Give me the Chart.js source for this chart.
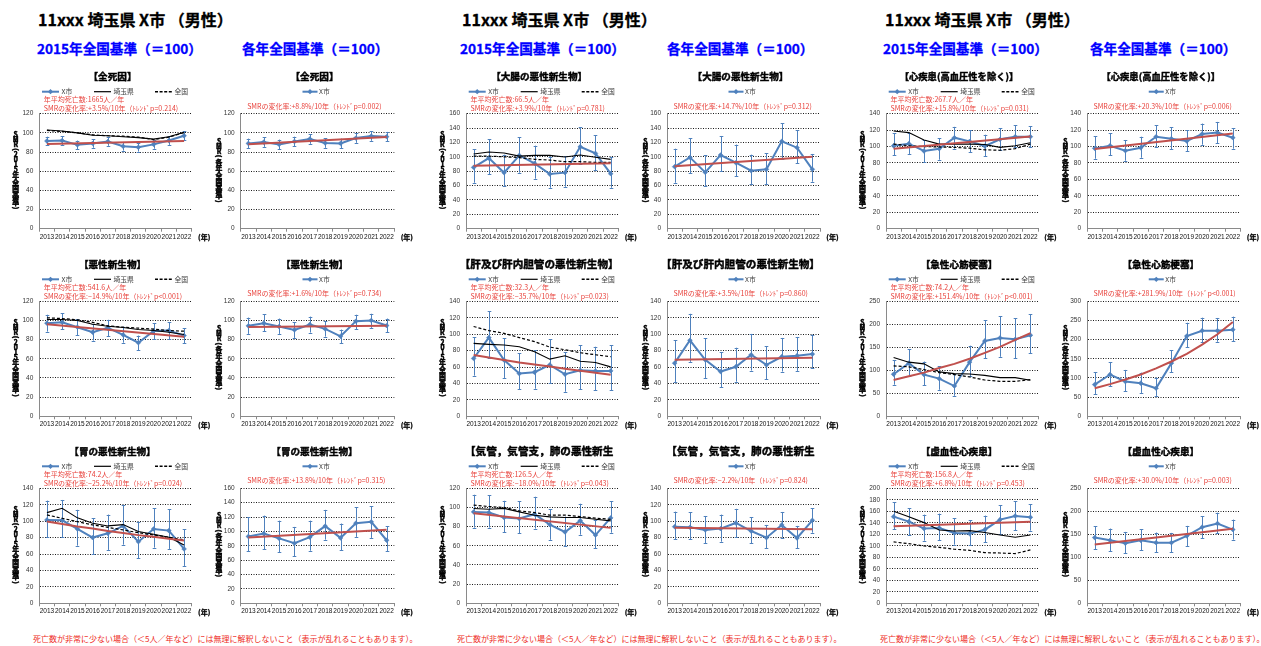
<!DOCTYPE html>
<html lang="ja">
<head>
<meta charset="utf-8">
<title>SMR推移 埼玉県 X市（男性）</title>
<script src="https://cdn.jsdelivr.net/npm/chart.js@4.4.1/dist/chart.umd.min.js"></script>
<style>
  html, body { margin:0; padding:0; background:#fff; }
  body { position:relative; width:1261px; height:646px; overflow:hidden; font-family:"Noto Sans CJK JP", sans-serif; }
  .city { position:absolute; font-weight:bold; font-size:16px; line-height:1; color:#000; white-space:nowrap; -webkit-text-stroke:0.3px #000; }
  .basis { position:absolute; font-weight:bold; font-size:13.6px; line-height:1; color:#0000ff; white-space:nowrap; -webkit-text-stroke:0.3px #0000ff; }
  .note { position:absolute; font-size:8px; line-height:1; color:#ee2a24; white-space:nowrap; }
  canvas { position:absolute; }
</style>
</head>
<body>
<div class="city" style="left:38px;top:11px">11xxx 埼玉県 X市 （男性）</div>
<div class="city" style="left:462px;top:11px">11xxx 埼玉県 X市 （男性）</div>
<div class="city" style="left:885px;top:11px">11xxx 埼玉県 X市 （男性）</div>
<div class="basis" style="left:37px;top:42px">2015年全国基準（＝100）</div>
<div class="basis" style="left:242px;top:42px">各年全国基準（＝100）</div>
<div class="basis" style="left:460px;top:42px">2015年全国基準（＝100）</div>
<div class="basis" style="left:667px;top:42px">各年全国基準（＝100）</div>
<div class="basis" style="left:883px;top:42px">2015年全国基準（＝100）</div>
<div class="basis" style="left:1090px;top:42px">各年全国基準（＝100）</div>
<div class="note" style="left:33px;top:635px">死亡数が非常に少ない場合（＜5人／年など）には無理に解釈しないこと（表示が乱れることもあります）。</div>
<div class="note" style="left:457px;top:635px">死亡数が非常に少ない場合（＜5人／年など）には無理に解釈しないこと（表示が乱れることもあります）。</div>
<div class="note" style="left:880px;top:635px">死亡数が非常に少ない場合（＜5人／年など）には無理に解釈しないこと（表示が乱れることもあります）。</div>

<script>
// ---- categories ----
const years = ['2013','2014','2015','2016','2017','2018','2019','2020','2021','2022'];

// ---- 全死因 ----
const allCauseSmr    = [91.5, 92, 87.5, 89, 91, 86, 85, 88, 92, 97];
const allCauseLo     = [87, 87.5, 83, 84.5, 86.5, 81.5, 80.5, 83.5, 87.5, 92.5];
const allCauseHi     = [96, 96.5, 92, 93.5, 95.5, 90.5, 89.5, 92.5, 96.5, 101.5];
const allCausePref   = [103, 102, 100, 97.5, 97, 96, 95, 93.5, 96, 100.5];
const allCauseNation = [102.5, 101.5, 100, 98, 97, 96.5, 95.5, 93, 95.5, 100.5];
const allCauseTrend  = [88.5, null, null, null, null, null, null, null, null, 91.6];
const allCauseYrSmr   = [89, 90.4, 88, 91, 93.6, 89.4, 89, 94.6, 96.7, 96];
const allCauseYrLo    = [84, 85.4, 83, 86, 88.6, 84.4, 84, 89.6, 91.7, 91];
const allCauseYrHi    = [94, 95.4, 93, 96, 98.6, 94.4, 94, 99.6, 101.7, 101];
const allCauseYrTrend = [88, null, null, null, null, null, null, null, null, 95.8];

// ---- 大腸の悪性新生物 ----
const colonSmr    = [85.3, 98.3, 77.9, 102, 90.9, 76, 78, 114, 104.8, 76.5];
const colonLo     = [64, 76, 59.4, 78, 69.6, 57, 58.4, 90, 81.6, 57];
const colonHi     = [110.4, 124.8, 103, 127, 115.5, 100, 101, 141, 130, 100];
const colonPref   = [103.9, 106.7, 105.3, 101, 102, 102, 99.7, 102.5, 99.3, 96.5];
const colonNation = [101, 101, 100, 99, 96.5, 95.5, 93.2, 93.2, 92.3, 92.3];
const colonTrend  = [87.5, null, null, null, null, null, null, null, null, 91];
const colonYrSmr   = [86.3, 99.2, 78.4, 102.5, 91.8, 80.7, 82.6, 121.5, 112.7, 82.6];
const colonYrLo    = [64, 77, 59.4, 80, 72.8, 62, 62, 97.4, 91, 65.4];
const colonYrHi    = [111.3, 125.7, 102, 129, 117, 103, 104.8, 146.6, 137.3, 104];
const colonYrTrend = [87, null, null, null, null, null, null, null, null, 100];

// ---- 心疾患（高血圧性を除く） ----
const heartSmr    = [101, 103.5, 94.6, 97.4, 110.8, 106.3, 100.6, 108.8, 112, 112];
const heartLo     = [89.3, 91, 80.8, 84, 97.4, 93.3, 88.5, 95.8, 99, 99];
const heartHi     = [116, 117, 107.5, 110.4, 124, 119.7, 114.4, 122, 125.8, 125];
const heartPref   = [119, 117, 108, 103, 103, 103, 102.5, 99, 101, 104.7];
const heartNation = [103, 101, 100, 99.5, 99, 98, 96, 95.5, 97.5, 103];
const heartTrend  = [97.4, null, null, null, null, null, null, null, null, 112.3];
const heartYrSmr   = [97.8, 101, 95, 98.6, 112, 109.6, 106.7, 115.3, 117, 110.8];
const heartYrLo    = [85.2, 89.3, 82.8, 86.4, 99.4, 97, 94.6, 102.3, 104, 97.4];
const heartYrHi    = [112.4, 116, 108, 112, 125.8, 123.4, 120, 128, 130, 122.6];
const heartYrTrend = [97, null, null, null, null, null, null, null, null, 116];

// ---- 悪性新生物 ----
const cancerSmr    = [97.2, 98.2, 93, 87.7, 92.3, 85, 76.8, 89, 89.5, 84.2];
const cancerLo     = [88.4, 90.9, 84.6, 79, 83.8, 76.8, 69, 80.3, 80.7, 76];
const cancerHi     = [106, 107.7, 101.4, 96, 100.7, 93.7, 84.2, 97.2, 98, 92];
const cancerPref   = [101, 101, 100, 96, 94, 92.6, 90.5, 89.5, 87.7, 85.3];
const cancerNation = [102.8, 102, 100.7, 98, 94.4, 93, 92, 91, 89.5, 88.8];
const cancerTrend  = [96, null, null, null, null, null, null, null, null, 83];
const cancerYrSmr   = [94.4, 97.2, 93.7, 90.2, 95.8, 91.2, 83.5, 99.3, 100, 94.7];
const cancerYrLo    = [86, 88.8, 86, 81.8, 87.4, 83.2, 76.5, 90.9, 92.3, 87.7];
const cancerYrHi    = [103, 106.3, 102, 97.9, 104, 99.3, 90.5, 106, 107, 102];
const cancerYrTrend = [93.3, null, null, null, null, null, null, null, null, 94.6];

// ---- 肝及び肝内胆管の悪性新生物 ----
const liverSmr    = [70.4, 95.8, 68.4, 52, 53.6, 62.6, 51.2, 56, 55.3, 55.3];
const liverLo     = [49.5, 71.2, 46.7, 32.7, 33.6, 40, 29.9, 33.2, 31.5, 31.5];
const liverHi     = [96.2, 127.7, 95, 76.5, 80.6, 93.7, 77.8, 86.4, 84.7, 86.4];
const liverPref   = [88.8, 87.6, 86.8, 84.7, 78.6, 69.6, 73.7, 67.1, 65.5, 60.2];
const liverNation = [109.3, 104.4, 101, 95.8, 90.9, 84.3, 81, 77.4, 74.9, 72.5];
const liverTrend  = [74.5, 71.5, 68.5, 65.5, 63, 60.5, 58, 55.5, 53, 50.5];
const liverYrSmr   = [64.7, 92.5, 68.8, 54.5, 60.3, 74.9, 62.6, 72.5, 73.7, 75.7];
const liverYrLo    = [41.8, 66.3, 46.7, 35.6, 42.2, 55.7, 45.2, 54.5, 55.3, 58.9];
const liverYrHi    = [92.9, 124.8, 95, 78.3, 83.5, 100.3, 85, 95.4, 96.6, 99.5];
const liverYrTrend = [68.8, null, null, null, null, null, null, null, null, 71.2];

// ---- 急性心筋梗塞 ----
const amiSmr    = [91.4, 115.5, 90.6, 81.9, 65.8, 117.7, 163.7, 170.3, 167.4, 176.2];
const amiLo     = [68.7, 87, 67.3, 57.7, 44.6, 87, 125.7, 129.4, 125.7, 136.7];
const amiHi     = [122, 146.2, 119, 109, 91.4, 153.5, 209, 217, 213.5, 222];
const amiPref   = [128, 117.7, 114, 96.5, 92.8, 92, 89, 84, 84, 78.2];
const amiNation = [109.6, 107.5, 101.6, 95, 90.6, 85.5, 78.9, 76, 76, 79.7];
const amiTrend  = [79, 87, 95, 105, 114, 125, 138, 151, 166, 181];
const amiYrSmr   = [82.8, 109, 90.7, 86.3, 73.3, 138.7, 209.3, 223.3, 223.3, 225.9];
const amiYrLo    = [58.3, 78.5, 65.4, 61, 53.2, 114.4, 180.5, 193.6, 194.5, 196.2];
const amiYrHi    = [115, 141.7, 121, 114, 101, 171.9, 244, 257.3, 256.5, 260];
const amiYrTrend = [73, 84, 96, 109, 125, 143, 163, 187, 214, 246];

// ---- 胃の悪性新生物 ----
const stomachSmr    = [101.5, 101, 90.5, 80, 85.2, 94.2, 75, 90.5, 88.5, 66.2];
const stomachLo     = [80.4, 80.4, 70.2, 59.7, 65, 71.4, 54.8, 67.8, 66.2, 45.5];
const stomachHi     = [125, 125.8, 113.8, 103.5, 108, 119.7, 99.4, 115.7, 114.4, 90];
const stomachPref   = [110.4, 115.7, 104, 97.4, 94.2, 95.8, 87.3, 84, 80.4, 71];
const stomachNation = [107.6, 103.5, 99.4, 95.4, 92.5, 89.3, 86, 83.2, 80.4, 77.1];
const stomachTrend  = [99.5, 96.5, 93.5, 91, 88, 85.5, 83, 81, 78.5, 76.5];
const stomachYrSmr   = [93, 97, 90.3, 83.5, 92, 107.4, 91, 111.5, 113.3, 87.7];
const stomachYrLo    = [72.3, 75, 71.4, 65.8, 73.2, 88.6, 73.7, 92.4, 91, 72.8];
const stomachYrHi    = [120, 122, 115, 106.3, 115, 130, 111, 133.4, 134.8, 107.3];
const stomachYrTrend = [91.5, null, null, null, null, null, null, null, null, 102.5];

// ---- 気管，気管支及び肺の悪性新生物 ----
const lungSmr    = [95.4, 94.7, 89.5, 88.4, 93, 82.1, 74.4, 86.3, 71.2, 89.1];
const lungLo     = [79, 79, 74, 73, 78, 66.3, 59.6, 71.6, 57.2, 73.7];
const lungHi     = [113.3, 112.6, 107, 106.3, 111.2, 98.2, 90.5, 103.9, 87, 106.7];
const lungPref   = [99, 98.2, 99, 95.4, 91.9, 90.2, 89.5, 89.5, 87.7, 86];
const lungNation = [102.5, 101, 100, 96.5, 94.7, 92, 92, 90.5, 88.8, 87.7];
const lungTrend  = [94, null, null, null, null, null, null, null, null, 78.7];
const lungYrSmr   = [93.3, 92.5, 89.3, 90.9, 97.8, 88, 79.9, 95.4, 79.5, 101];
const lungYrLo    = [77.9, 77.9, 73, 75, 80.4, 73, 67, 80, 67, 86];
const lungYrHi    = [111.6, 110.8, 106.3, 108, 115, 104.8, 95.4, 111.2, 94.2, 116];
const lungYrTrend = [92, null, null, null, null, null, null, null, null, 90];

// ---- 虚血性心疾患 ----
const ihdSmr    = [150.7, 142, 129.9, 131, 122.3, 121.2, 128, 145.5, 151.9, 149.6];
const ihdLo     = [128.7, 118.8, 109, 109.6, 102, 101, 106, 120.6, 127, 126.4];
const ihdHi     = [175.7, 165.2, 154.2, 156, 147.8, 144.3, 152.5, 170.4, 177.4, 172.2];
const ihdPref   = [160, 150.7, 140.3, 127.5, 125.8, 126.4, 123, 118.8, 114.8, 118.8];
const ihdNation = [106.7, 103.8, 99.7, 97.4, 94, 92.2, 88, 87.5, 86.4, 92.8];
const ihdTrend  = [134, null, null, null, null, null, null, null, null, 142];
const ihdYrSmr   = [142.9, 137, 130.5, 137, 131.9, 131.9, 146.5, 165.5, 173.5, 160.3];
const ihdYrLo    = [117.3, 113.7, 109.3, 115, 110.8, 111.5, 124.6, 142, 152.3, 138.5];
const ihdYrHi    = [167.6, 162.5, 155.2, 161, 153.8, 153, 168.3, 189, 197, 182];
const ihdYrTrend = [128, null, null, null, null, null, null, null, null, 162];

// ---- panel captions ----
const allCauseNotes  = ['年平均死亡数:1665人／年', 'SMRの変化率:+3.5%/10年（ﾄﾚﾝﾄﾞp=0.214)'];
const allCauseYrNote = ['SMRの変化率:+8.8%/10年（ﾄﾚﾝﾄﾞp=0.002)'];
const colonNotes     = ['年平均死亡数:66.5人／年', 'SMRの変化率:+3.9%/10年（ﾄﾚﾝﾄﾞp=0.781)'];
const colonYrNote    = ['SMRの変化率:+14.7%/10年（ﾄﾚﾝﾄﾞp=0.312)'];
const heartNotes     = ['年平均死亡数:267.7人／年', 'SMRの変化率:+15.8%/10年（ﾄﾚﾝﾄﾞp=0.031)'];
const heartYrNote    = ['SMRの変化率:+20.3%/10年（ﾄﾚﾝﾄﾞp=0.006)'];
const cancerNotes    = ['年平均死亡数:541.6人／年', 'SMRの変化率:−14.9%/10年（ﾄﾚﾝﾄﾞp<0.001)'];
const cancerYrNote   = ['SMRの変化率:+1.6%/10年（ﾄﾚﾝﾄﾞp=0.734)'];
const liverNotes     = ['年平均死亡数:32.3人／年', 'SMRの変化率:−35.7%/10年（ﾄﾚﾝﾄﾞp=0.023)'];
const liverYrNote    = ['SMRの変化率:+3.5%/10年（ﾄﾚﾝﾄﾞp=0.860)'];
const amiNotes       = ['年平均死亡数:74.2人／年', 'SMRの変化率:+151.4%/10年（ﾄﾚﾝﾄﾞp<0.001)'];
const amiYrNote      = ['SMRの変化率:+281.9%/10年（ﾄﾚﾝﾄﾞp<0.001)'];
const stomachNotes   = ['年平均死亡数:74.2人／年', 'SMRの変化率:−25.2%/10年（ﾄﾚﾝﾄﾞp=0.024)'];
const stomachYrNote  = ['SMRの変化率:+13.8%/10年（ﾄﾚﾝﾄﾞp=0.315)'];
const lungNotes      = ['年平均死亡数:126.5人／年', 'SMRの変化率:−18.0%/10年（ﾄﾚﾝﾄﾞp=0.043)'];
const lungYrNote     = ['SMRの変化率:−2.2%/10年（ﾄﾚﾝﾄﾞp=0.824)'];
const ihdNotes       = ['年平均死亡数:156.8人／年', 'SMRの変化率:+6.8%/10年（ﾄﾚﾝﾄﾞp=0.453)'];
const ihdYrNote      = ['SMRの変化率:+30.0%/10年（ﾄﾚﾝﾄﾞp=0.003)'];

const seriesNames = ['X市', '埼玉県', '全国'];
const axisTitle2015 = 'SMR(2015年全国基準)';
const axisTitleYear = 'SMR(各年全国基準)';

// ---- styles ----
const BLUE = '#4F81BD';
const TREND_RED = '#C0504D';
const NOTE_RED = '#E8413B';
const AXIS_GREY = '#8a8a8a';
const JP = '"Noto Sans CJK JP", sans-serif';

// panel list, row by row, left to right
const panels = [
  {title:'【全死因】', smr:allCauseSmr, lo:allCauseLo, hi:allCauseHi, pref:allCausePref, nation:allCauseNation, trend:allCauseTrend, notes:allCauseNotes, yMax:120, step:20},
  {title:'【全死因】', smr:allCauseYrSmr, lo:allCauseYrLo, hi:allCauseYrHi, trend:allCauseYrTrend, notes:allCauseYrNote, yMax:120, step:20},
  {title:'【大腸の悪性新生物】', smr:colonSmr, lo:colonLo, hi:colonHi, pref:colonPref, nation:colonNation, trend:colonTrend, notes:colonNotes, yMax:160, step:20},
  {title:'【大腸の悪性新生物】', smr:colonYrSmr, lo:colonYrLo, hi:colonYrHi, trend:colonYrTrend, notes:colonYrNote, yMax:160, step:20},
  {title:'【心疾患(高血圧性を除く)】', smr:heartSmr, lo:heartLo, hi:heartHi, pref:heartPref, nation:heartNation, trend:heartTrend, notes:heartNotes, yMax:140, step:20, tSize:9.3},
  {title:'【心疾患(高血圧性を除く)】', smr:heartYrSmr, lo:heartYrLo, hi:heartYrHi, trend:heartYrTrend, notes:heartYrNote, yMax:140, step:20, tSize:9.3},

  {title:'【悪性新生物】', smr:cancerSmr, lo:cancerLo, hi:cancerHi, pref:cancerPref, nation:cancerNation, trend:cancerTrend, notes:cancerNotes, yMax:120, step:20},
  {title:'【悪性新生物】', smr:cancerYrSmr, lo:cancerYrLo, hi:cancerYrHi, trend:cancerYrTrend, notes:cancerYrNote, yMax:120, step:20},
  {title:'【肝及び肝内胆管の悪性新生物】', smr:liverSmr, lo:liverLo, hi:liverHi, pref:liverPref, nation:liverNation, trend:liverTrend, notes:liverNotes, yMax:140, step:20, tSize:10.6},
  {title:'【肝及び肝内胆管の悪性新生物】', smr:liverYrSmr, lo:liverYrLo, hi:liverYrHi, trend:liverYrTrend, notes:liverYrNote, yMax:140, step:20, tSize:10.6},
  {title:'【急性心筋梗塞】', smr:amiSmr, lo:amiLo, hi:amiHi, pref:amiPref, nation:amiNation, trend:amiTrend, notes:amiNotes, yMax:250, step:50},
  {title:'【急性心筋梗塞】', smr:amiYrSmr, lo:amiYrLo, hi:amiYrHi, trend:amiYrTrend, notes:amiYrNote, yMax:300, step:50},

  {title:'【胃の悪性新生物】', smr:stomachSmr, lo:stomachLo, hi:stomachHi, pref:stomachPref, nation:stomachNation, trend:stomachTrend, notes:stomachNotes, yMax:140, step:20},
  {title:'【胃の悪性新生物】', smr:stomachYrSmr, lo:stomachYrLo, hi:stomachYrHi, trend:stomachYrTrend, notes:stomachYrNote, yMax:160, step:20},
  {title:'【気管，気管支，肺の悪性新生', smr:lungSmr, lo:lungLo, hi:lungHi, pref:lungPref, nation:lungNation, trend:lungTrend, notes:lungNotes, yMax:120, step:20, tSize:10.6},
  {title:'【気管，気管支，肺の悪性新生', smr:lungYrSmr, lo:lungYrLo, hi:lungYrHi, trend:lungYrTrend, notes:lungYrNote, yMax:140, step:20, tSize:10.6},
  {title:'【虚血性心疾患】', smr:ihdSmr, lo:ihdLo, hi:ihdHi, pref:ihdPref, nation:ihdNation, trend:ihdTrend, notes:ihdNotes, yMax:200, step:20},
  {title:'【虚血性心疾患】', smr:ihdYrSmr, lo:ihdYrLo, hi:ihdYrHi, trend:ihdYrTrend, notes:ihdYrNote, yMax:250, step:50}
];

// plot rectangles on the page
const colRects = [
  {l:39.3, r:191.7}, {l:240.7, r:394.3},
  {l:466, r:618.3},  {l:667, r:820},
  {l:886, r:1038},   {l:1087, r:1240.5}
];
const rowTops = [113.7, 301.3, 488.3];
const PLOT_H = 115;

// error bars drawn right after the X市 series, through the y scale
const errorBars = {
  id: 'errorBars',
  afterDatasetDraw(chart, args) {
    const ds = chart.data.datasets[args.index];
    if (!ds.errLo) return;
    const y = chart.scales.y, ctx = chart.ctx;
    ctx.save();
    ctx.strokeStyle = BLUE;
    ctx.lineWidth = 1;
    args.meta.data.forEach((pt, i) => {
      const yl = y.getPixelForValue(ds.errLo[i]);
      const yh = y.getPixelForValue(ds.errHi[i]);
      const x = Math.round(pt.x) + 0.5;
      ctx.beginPath();
      ctx.moveTo(x, yl); ctx.lineTo(x, yh);
      ctx.moveTo(x - 1.8, Math.round(yl) + 0.5); ctx.lineTo(x + 1.8, Math.round(yl) + 0.5);
      ctx.moveTo(x - 1.8, Math.round(yh) + 0.5); ctx.lineTo(x + 1.8, Math.round(yh) + 0.5);
      ctx.stroke();
    });
    ctx.restore();
  }
};

function legendSample(ctx, x1, x2, y, kind) {
  ctx.save();
  ctx.beginPath();
  ctx.moveTo(x1, y); ctx.lineTo(x2, y);
  if (kind === 0) {
    ctx.strokeStyle = BLUE; ctx.lineWidth = 2; ctx.stroke();
    const m = (x1 + x2) / 2, r = 2.6;
    ctx.beginPath();
    ctx.moveTo(m, y - r); ctx.lineTo(m + r, y); ctx.lineTo(m, y + r); ctx.lineTo(m - r, y);
    ctx.closePath(); ctx.fillStyle = BLUE; ctx.fill();
  } else if (kind === 1) {
    ctx.strokeStyle = '#000'; ctx.lineWidth = 1.2; ctx.stroke();
  } else {
    ctx.setLineDash([3, 1.6]); ctx.strokeStyle = '#000'; ctx.lineWidth = 1.4; ctx.stroke();
  }
  ctx.restore();
}

// heavy text: fill plus a thin stroke in the same colour
function heavyText(ctx, s, x, y, w) {
  ctx.lineWidth = w;
  ctx.strokeStyle = ctx.fillStyle;
  ctx.strokeText(s, x, y);
  ctx.fillText(s, x, y);
}

// title, legend, captions, vertical axis title and unit label
const panelText = {
  id: 'panelText',
  afterDraw(chart, args, o) {
    const ctx = chart.ctx, a = chart.chartArea;
    const cx = (a.left + a.right) / 2;
    ctx.save();
    ctx.textBaseline = 'middle';
    ctx.lineJoin = 'round';

    ctx.fillStyle = '#000';
    ctx.textAlign = 'center';
    ctx.font = `bold ${o.titleSize}px ${JP}`;
    heavyText(ctx, o.title, cx - 3, a.top - 37, 0.45);

    ctx.font = `6.8px ${JP}`;
    ctx.fillStyle = '#404040';
    ctx.textAlign = 'left';
    const ly = a.top - 22;
    if (o.full) {
      const offs = [2.7, 54.7, 115.7];
      offs.forEach((dx, k) => {
        legendSample(ctx, a.left + dx, a.left + dx + 17, ly, k);
        ctx.fillStyle = '#404040';
        ctx.fillText(seriesNames[k], a.left + dx + 19.5, ly);
      });
    } else {
      legendSample(ctx, cx - 15, cx, ly, 0);
      ctx.fillStyle = '#404040';
      ctx.fillText(seriesNames[0], cx + 1.5, ly);
    }

    ctx.font = `7px ${JP}`;
    ctx.fillStyle = NOTE_RED;
    if (o.full) {
      ctx.fillText(o.notes[0], a.left + 4.5, a.top - 14.2);
      ctx.fillText(o.notes[1], a.left + 4.5, a.top - 4.9);
    } else {
      ctx.fillText(o.notes[0], a.left + 6.5, a.top - 7.5);
    }

    // vertical axis title, characters stacked
    const chars = Array.from(o.axisTitle);
    const stepOf = c => (c.charCodeAt(0) < 128 ? 5 : 6.7);
    const total = chars.reduce((s, c) => s + stepOf(c), 0);
    let yy = (a.top + a.bottom) / 2 - total / 2;
    const ax = a.left - (o.full ? 23.6 : 21.7);
    ctx.font = `bold 6.8px ${JP}`;
    ctx.fillStyle = '#000';
    ctx.textAlign = 'center';
    chars.forEach(c => {
      const s = stepOf(c);
      const my = yy + s / 2;
      if (c === '(' || c === ')') {
        ctx.save(); ctx.translate(ax, my); ctx.rotate(Math.PI / 2);
        heavyText(ctx, c, 0, 0, 0.5); ctx.restore();
      } else {
        heavyText(ctx, c, ax, my, 0.5);
      }
      yy += s;
    });

    ctx.font = `bold 7px ${JP}`;
    heavyText(ctx, '(年)', a.right + 12.5, a.bottom + 8.8, 0.3);
    ctx.restore();
  }
};

Chart.defaults.font.family = '"Liberation Sans", "Noto Sans CJK JP", sans-serif';

panels.forEach((p, k) => {
  const row = Math.floor(k / 6), col = k % 6;
  const rect = colRects[col];
  const rowTop = rowTops[row];
  const full = !!p.pref;

  const canvasLeft = Math.floor(rect.l - 38);
  const canvasTop = Math.floor(rowTop - 52);
  const yW = rect.l - canvasLeft;
  const padTop = rowTop - canvasTop;
  const canvasW = Math.ceil(rect.r - canvasLeft + 22);
  const padRight = canvasW - (rect.r - canvasLeft);
  const canvasH = 190;
  const xH = 16;
  const padBottom = canvasH - (padTop + PLOT_H) - xH;

  const cv = document.createElement('canvas');
  cv.width = canvasW; cv.height = canvasH;
  cv.style.left = canvasLeft + 'px';
  cv.style.top = canvasTop + 'px';
  cv.style.width = canvasW + 'px';
  cv.style.height = canvasH + 'px';
  document.body.appendChild(cv);

  const datasets = [
    {label:'近似', data:p.trend, borderColor:TREND_RED, borderWidth:2, pointRadius:0, spanGaps:true, tension:0, order:0},
  ];
  if (full) {
    datasets.push({label:seriesNames[2], data:p.nation, borderColor:'#000', borderWidth:1.2, borderDash:[3, 2], pointRadius:0, order:1});
    datasets.push({label:seriesNames[1], data:p.pref, borderColor:'#000', borderWidth:1.1, pointRadius:0, order:2});
  }
  datasets.push({label:seriesNames[0], data:p.smr, errLo:p.lo, errHi:p.hi, borderColor:BLUE, backgroundColor:BLUE,
    borderWidth:2, pointStyle:'rectRot', pointRadius:2.4, pointBorderWidth:0.5, order:3});

  new Chart(cv, {
    type: 'line',
    data: { labels: years, datasets },
    plugins: [errorBars, panelText],
    options: {
      responsive: false,
      animation: false,
      events: [],
      layout: { padding: { left: 0, top: padTop, right: padRight, bottom: padBottom } },
      plugins: {
        legend: { display: false },
        tooltip: { enabled: false },
        title: { display: false },
        panelText: {
          title: p.title, titleSize: p.tSize || 9.6, notes: p.notes, full,
          axisTitle: full ? axisTitle2015 : axisTitleYear
        }
      },
      scales: {
        x: {
          type: 'category',
          offset: true,
          grid: { display: true, drawOnChartArea: false, drawTicks: true, tickLength: 3, tickColor: AXIS_GREY, offset: true },
          border: { color: AXIS_GREY, width: 1 },
          ticks: { font: { size: 6.5 }, color: '#111', padding: 1.5, maxRotation: 0, minRotation: 0, autoSkip: false },
          afterFit(s) { s.height = xH; }
        },
        y: {
          min: 0, max: p.yMax,
          ticks: { stepSize: p.step, font: { size: 6.5 }, color: '#333', padding: 6, autoSkip: false, maxTicksLimit: 30 },
          grid: {
            drawTicks: false, lineWidth: 1,
            color: c => (c.tick && c.tick.value === 0 ? 'rgba(0,0,0,0)' : '#1a1a1a')
          },
          border: { color: AXIS_GREY, width: 1, dash: [1, 1.5] },
          afterFit(s) { s.width = yW; }
        }
      }
    }
  });
});
</script>
</body>
</html>
